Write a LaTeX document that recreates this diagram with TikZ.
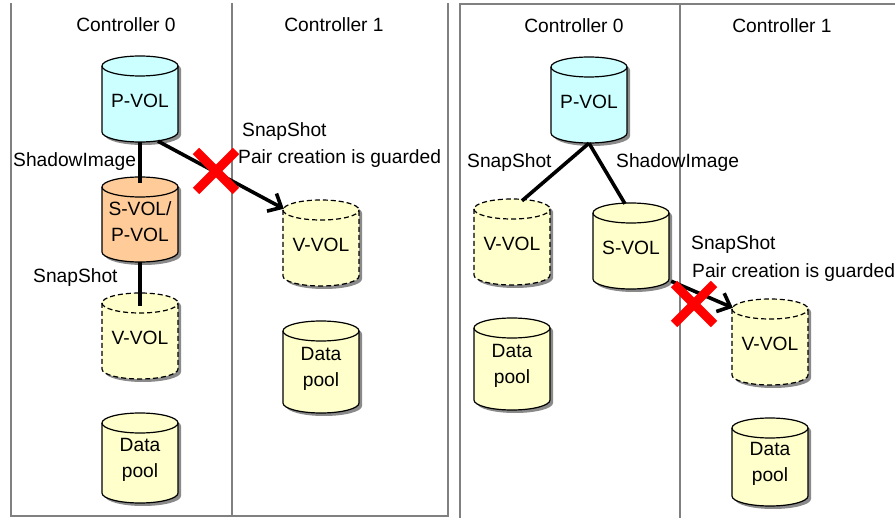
\documentclass[tikz,border=0pt]{standalone}
\usepackage{fontspec}
\setmainfont{Liberation Sans}
\usetikzlibrary{arrows.meta,shapes.misc}
\definecolor{cyanf}{HTML}{CCFFFF}
\definecolor{orangef}{HTML}{FFCC99}
\definecolor{yellowf}{HTML}{FFFFCC}
\definecolor{framec}{HTML}{808080}
\definecolor{shadowc}{HTML}{8A8A8A}
% #1 cx, #2 top, #3 height
\newcommand\cylpath[3]{(#1-38,#2+10) -- (#1-38,#2+#3-10) arc[start angle=180,end angle=0,x radius=38,y radius=10] -- (#1+38,#2+10) arc[start angle=0,end angle=-180,x radius=38,y radius=10] -- cycle}
% #1 name, #2 cx, #3 top, #4 height, #5 fill colour, #6 line style, #7 text
\newcommand\vol[7]{%
  \fill[shadowc] \cylpath{#2+3}{#3+3}{#4};
  \fill[#5] \cylpath{#2}{#3}{#4};
  \draw[cylline,#6] \cylpath{#2}{#3}{#4};
  \draw[cylline,#6] (#2-38,#3+10) arc[start angle=180,end angle=0,x radius=38,y radius=10];
  \node[vollabel,minimum height=#4pt] (#1) at (#2,#3+#4/2) {};
  \node[inner sep=0pt,align=center] (#1-text) at (#2,#3+#4/2+2) {#7};
}
\begin{document}
\begin{tikzpicture}[x=1pt,y=-1pt,
  font=\fontsize{19.2}{26.5}\selectfont,
  cylline/.style={draw=black,line width=1.2pt},
  dashedline/.style={dash pattern=on 5pt off 3pt},
  vollabel/.style={minimum width=76pt,inner sep=0pt},
  frame/.style={draw=framec,line width=2pt},
  link/.style={draw=black,line width=3.6pt},
  guarded/.style={link,-{Straight Barb[length=11pt,width=20pt]}},
  redx/.style={cross out,draw=red,line width=9pt,minimum size=40pt,inner sep=0pt,outer sep=0pt},
  lbl/.style={inner sep=0pt,anchor=west},
  title/.style={inner sep=0pt}]
\useasboundingbox (0,0) rectangle (895,518);
\fill[white] (0,0) rectangle (895,518);
% frames
\draw[frame] (11,3) -- (11,516.5) -- (448,516.5) -- (448,3);
\draw[frame] (231.5,3) -- (231.5,516.5);
\draw[frame] (459.5,518) -- (459.5,4) -- (895,4);
\draw[frame] (680,4) -- (680,518);
% titles
\node[title] (t0a) at (126,25) {Controller 0};
\node[title] (t1a) at (334,25) {Controller 1};
\node[title] (t0b) at (574,26) {Controller 0};
\node[title] (t1b) at (782,26) {Controller 1};
% left panel volumes
\vol{pvl}{140}{56}{86}{cyanf}{solid}{P-VOL}
\vol{svl}{140}{177}{85}{orangef}{solid}{S-VOL/\\P-VOL}
\vol{vvl}{140}{293}{86}{yellowf}{dashedline}{V-VOL}
\vol{dpl}{140}{413}{90}{yellowf}{solid}{Data\\pool}
\vol{vvl1}{321}{200}{86}{yellowf}{dashedline}{V-VOL}
\vol{dpl1}{321}{321}{92}{yellowf}{solid}{Data\\pool}
% right panel volumes
\vol{pvr}{589}{57}{86}{cyanf}{solid}{P-VOL}
\vol{vvr}{512}{199}{86}{yellowf}{dashedline}{V-VOL}
\vol{svr}{631}{203}{86}{yellowf}{solid}{S-VOL}
\vol{dpr}{512}{318}{92}{yellowf}{solid}{Data\\pool}
\vol{vvr1}{770}{299}{86}{yellowf}{dashedline}{V-VOL}
\vol{dpr1}{770}{418}{88}{yellowf}{solid}{Data\\pool}
% connectors left
\draw[link] (pvl.south) -- ([yshift=-6pt]svl.north);
\draw[link] (svl.south) -- ([yshift=-13pt]vvl.north);
\draw[guarded] ([xshift=18pt,yshift=1pt]pvl.south) -- ([xshift=1pt,yshift=-9pt]vvl1.north west);
\node[redx] (xl) at (216,171) {};
% connectors right
\draw[link] (pvr.south) -- ([xshift=10pt,yshift=-2pt]vvr.north);
\draw[link] (pvr.south) -- ([xshift=-6pt,yshift=-1pt]svr.north);
\draw[guarded] ([xshift=2pt,yshift=8pt]svr.south east) -- ([xshift=1pt,yshift=-9pt]vvr1.north west);
\node[redx] (xr) at (694,304) {};
% labels
\node[lbl] (si1) at (13,162) {ShadowImage};
\node[lbl] (ss1) at (242,132) {SnapShot};
\node[lbl] (pg1) at (238,159) {Pair creation is guarded};
\node[lbl] (ss2) at (33,278) {SnapShot};
\node[lbl] (ss3) at (467,163) {SnapShot};
\node[lbl] (si2) at (616,163) {ShadowImage};
\node[lbl] (ss4) at (691,245) {SnapShot};
\node[lbl] (pg2) at (692,273) {Pair creation is guarded};
\end{tikzpicture}
\end{document}
